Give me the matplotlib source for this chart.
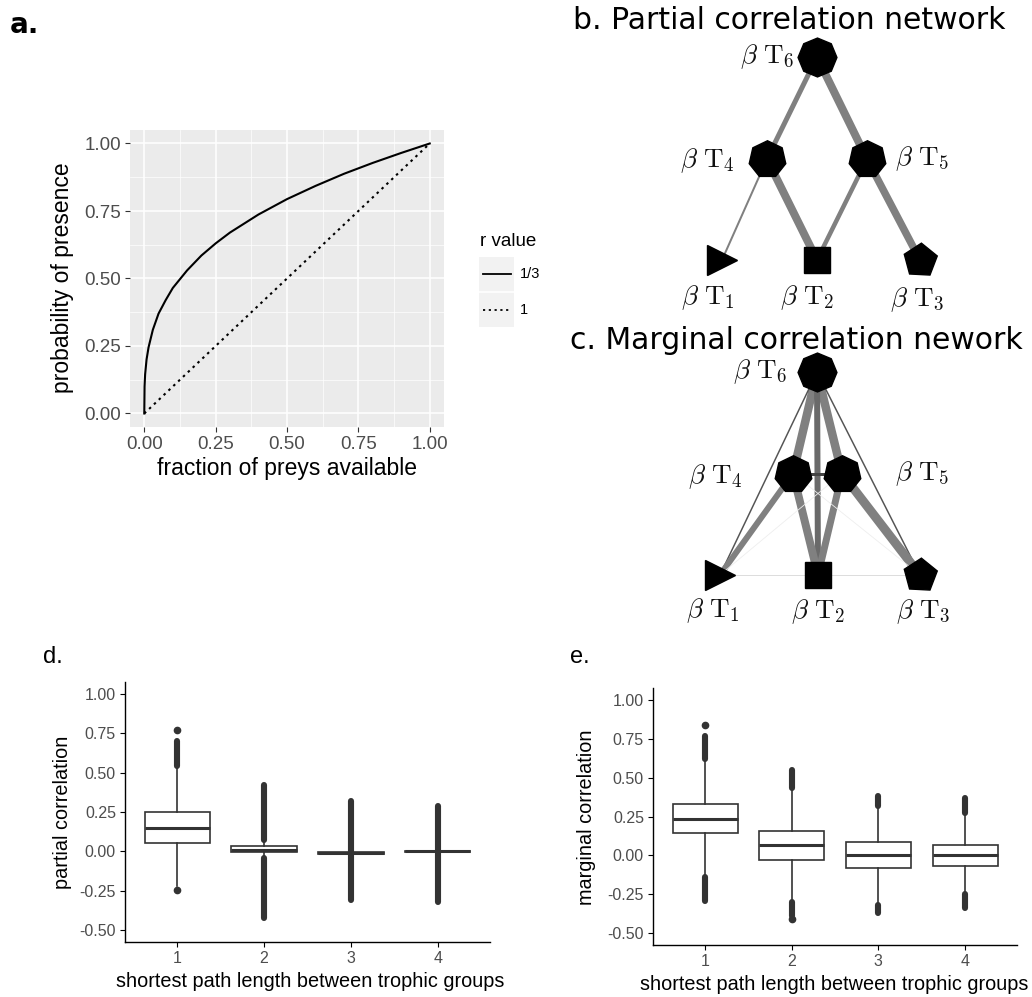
import matplotlib
matplotlib.use('Agg')
import matplotlib.pyplot as plt

W, H = 1032, 997
GG = 'Liberation Sans'
plt.rcParams['mathtext.fontset'] = 'cm'

# panel a: probability of presence against fraction of preys available
frac_preys = [0, 0.001, 0.003, 0.008, 0.015, 0.03, 0.05, 0.075, 0.1, 0.15, 0.2,
              0.25, 0.3, 0.4, 0.5, 0.6, 0.7, 0.8, 0.9, 1.0]
presence_r13 = [0, 0.10, 0.145, 0.20, 0.245, 0.31, 0.37, 0.42, 0.465, 0.53, 0.585,
                0.63, 0.67, 0.737, 0.794, 0.843, 0.888, 0.928, 0.965, 1.0]
frac_r1 = [0, 1.0]
presence_r1 = [0, 1.0]
r_labels = ['1/3', '1']
unit_ticks = [0, 0.25, 0.5, 0.75, 1.0]
unit_ticklabels = ['0.00', '0.25', '0.50', '0.75', '1.00']

# panels b, c: trophic group networks (edge strength ~ width)
partial_edges = [('T6', 'T4'), ('T6', 'T5'), ('T4', 'T1'), ('T4', 'T2'), ('T5', 'T2'), ('T5', 'T3')]
partial_strength = [0.5, 0.8, 0.2, 0.8, 0.45, 0.75]
marginal_edges = [('T6', 'T4'), ('T6', 'T5'), ('T6', 'T2'), ('T6', 'T1'), ('T6', 'T3'),
                  ('T4', 'T1'), ('T4', 'T2'), ('T5', 'T2'), ('T5', 'T3'), ('T4', 'T5'),
                  ('T1', 'T2'), ('T2', 'T3'), ('T4', 'T3'), ('T5', 'T1')]
marginal_strength = [0.85, 0.85, 0.6, 0.15, 0.15, 0.6, 0.8, 0.7, 0.9, 0.3, 0.1, 0.1, 0.08, 0.08]

# panels d, e: correlation by shortest path length
path_len = [1, 2, 3, 4]
path_ticks = [-0.5, -0.25, 0, 0.25, 0.5, 0.75, 1.0]
path_ticklabels = ['-0.50', '-0.25', '0.00', '0.25', '0.50', '0.75', '1.00']

pc_q1 = [0.055, -0.005, -0.018, -0.003]
pc_med = [0.15, 0.01, -0.011, 0.0]
pc_q3 = [0.25, 0.035, -0.004, 0.003]
pc_lo = [-0.22, -0.03, -0.02, -0.005]
pc_hi = [0.53, 0.06, 0.0, 0.005]
pc_points = [[0.77, -0.245], [], [], []]
pc_span_lo = [[0.545], [0.07, -0.42], [-0.31], [-0.32]]
pc_span_hi = [[0.70], [0.42, -0.04], [0.32], [0.29]]

mc_q1 = [0.143, -0.028, -0.081, -0.066]
mc_med = [0.235, 0.064, 0.0, 0.0]
mc_q3 = [0.33, 0.158, 0.086, 0.066]
mc_lo = [-0.13, -0.28, -0.30, -0.24]
mc_hi = [0.61, 0.42, 0.31, 0.26]
mc_points = [[0.84], [-0.41], [], []]
mc_span_lo = [[0.62, -0.29], [0.43, -0.39], [0.32, -0.37], [0.27, -0.34]]
mc_span_hi = [[0.77, -0.14], [0.55, -0.30], [0.38, -0.32], [0.37, -0.25]]

fig = plt.figure(figsize=(W / 100, H / 100), dpi=100)


def px_axes(l, t, r, b):
    return fig.add_axes([l / W, 1 - b / H, (r - l) / W, (b - t) / H])


def px_text(x, y, s, **kw):
    return fig.text(x / W, 1 - y / H, s, **kw)


# ---------------- a ----------------
ax = px_axes(130, 130, 444, 427)
ax.set_facecolor('#EBEBEB')
ax.set_xlim(-0.05, 1.05)
ax.set_ylim(-0.05, 1.05)
ax.set_xticks(unit_ticks, unit_ticklabels)
ax.set_yticks(unit_ticks, unit_ticklabels)
ax.set_xticks([0.125, 0.375, 0.625, 0.875], minor=True)
ax.set_yticks([0.125, 0.375, 0.625, 0.875], minor=True)
ax.grid(which='major', color='white', lw=1.1)
ax.grid(which='minor', color='white', lw=0.5)
ax.set_axisbelow(True)
ax.tick_params(which='minor', length=0)
ax.tick_params(which='major', length=3.5, width=0.8, color='#333333',
               labelcolor='#4D4D4D', labelsize=13.5, pad=3)
for lab in ax.get_xticklabels() + ax.get_yticklabels():
    lab.set_fontfamily(GG)
for sp in ax.spines.values():
    sp.set_visible(False)
ax.plot(frac_preys, presence_r13, color='black', lw=1.5)
ax.plot(frac_r1, presence_r1, color='black', lw=1.5, ls=(0, (1.2, 2)))
px_text(62, 278, 'probability of presence', rotation=90, ha='center', va='center',
        fontsize=16.5, family=GG)
px_text(287, 468, 'fraction of preys available', ha='center', va='center',
        fontsize=16.5, family=GG)

# legend
lax = px_axes(479, 257, 514, 327)
lax.set_xlim(0, 1)
lax.set_ylim(0, 2)
lax.set_facecolor('#F2F2F2')
lax.axhline(1, color='white', lw=1.2)
lax.plot([0.1, 0.9], [1.5, 1.5], color='black', lw=1.3)
lax.plot([0.1, 0.9], [0.5, 0.5], color='black', lw=1.3, ls=(0, (1.2, 2)))
lax.set_xticks([])
lax.set_yticks([])
for sp in lax.spines.values():
    sp.set_visible(False)
px_text(480, 241, 'r value', ha='left', va='center', fontsize=13.5, family=GG)
px_text(520, 274, r_labels[0], ha='left', va='center', fontsize=10.5, family=GG)
px_text(520, 310, r_labels[1], ha='left', va='center', fontsize=10.5, family=GG)

px_text(10, 33, 'a.', fontsize=20, fontweight='bold', family='DejaVu Sans', va='baseline')

# ---------------- b, c networks ----------------
shapes = {'T1': ('>', 22), 'T2': ('s', 19), 'T3': ((5, 0, -75), 25),
          'T4': ((7, 0, 0), 27), 'T5': ((7, 0, 0), 27), 'T6': ((8, 0, 0), 28)}


def draw_net(ax, pos, edges, strength, colors, offsets):
    for (a, b), s, c in zip(edges, strength, colors):
        ax.plot([pos[a][0], pos[b][0]], [pos[a][1], pos[b][1]], color=c,
                lw=max(s * 10 * 0.72, 0.6), solid_capstyle='butt', zorder=1)
    for n, (x, y) in pos.items():
        m, ms = shapes[n]
        ax.plot([x], [y], marker=m, ms=ms, color='black', mec='black', ls='none', zorder=3)
        dx, dy, ha = offsets[n]
        ax.annotate(r'$\beta\ \mathrm{T}_{%s}$' % n[1], (x, y), xytext=(dx, dy),
                    textcoords='offset pixels', ha=ha, va='center', fontsize=19.5,
                    color='#111111')
    ax.set_xlim(-4, 4)
    ax.axis('off')


bax = px_axes(617, 36, 1017, 316)
bax.set_ylim((260 - 316) / 101, (260 - 36) / 101)
pos_b = {'T1': (-1.9, 0), 'T2': (0, 0), 'T3': (2.06, 0),
         'T4': (-1.0, 1.0), 'T5': (1.0, 1.0), 'T6': (0, 2.01)}
off_b = {'T1': (-14, -38, 'center'), 'T2': (-10, -38, 'center'), 'T3': (-3, -40, 'center'),
         'T4': (-32, -2, 'right'), 'T5': (28, 0, 'left'), 'T6': (-22, 0, 'right')}
draw_net(bax, pos_b, partial_edges, partial_strength, ['#808080'] * len(partial_edges), off_b)

cax = px_axes(617, 330, 1017, 630)
cax.set_ylim((575 - 630) / 101.5, (575 - 330) / 101.5)
pos_c = {'T1': (-1.94, 0), 'T2': (0.02, 0), 'T3': (2.06, 0),
         'T4': (-0.48, 1.0), 'T5': (0.5, 1.0), 'T6': (0, 2.0)}
off_c = {'T1': (-7, -36, 'center'), 'T2': (0, -37, 'center'), 'T3': (3, -37, 'center'),
         'T4': (-50, -3, 'right'), 'T5': (53, 0, 'left'), 'T6': (-29, 0, 'right')}
marginal_colors = ['#808080', '#808080', '#6a6a6a', '#555555', '#555555',
                   '#808080', '#808080', '#808080', '#808080', '#444444',
                   '#dddddd', '#dddddd', '#eeeeee', '#eeeeee']
draw_net(cax, pos_c, marginal_edges, marginal_strength, marginal_colors, off_c)

px_text(573, 29, 'b. Partial correlation network', fontsize=21.5,
        family='DejaVu Sans', va='baseline')
px_text(570, 349, 'c. Marginal correlation nework', fontsize=21.5,
        family='DejaVu Sans', va='baseline')


# ---------------- d, e boxplots ----------------
def draw_box(ax, q1, med, q3, lo, hi, pts, slo, shi):
    stats = []
    for i in range(len(path_len)):
        stats.append(dict(med=med[i], q1=q1[i], q3=q3[i], whislo=lo[i], whishi=hi[i],
                          fliers=pts[i]))
    ax.bxp(stats, positions=path_len, widths=0.75, patch_artist=True, showcaps=False,
           boxprops=dict(facecolor='white', edgecolor='#333333', lw=1.2),
           medianprops=dict(color='#333333', lw=2.2),
           whiskerprops=dict(color='#333333', lw=1.2),
           flierprops=dict(marker='o', mfc='#333333', mec='#333333', ms=4.5))
    for i, x in enumerate(path_len):
        ax.vlines([x] * len(slo[i]), slo[i], shi[i], colors='#333333', lw=4.4,
                  capstyle='round', zorder=3)
    ax.set_xlim(0.4, 4.6)
    ax.set_ylim(-0.575, 1.075)
    ax.set_xticks(path_len, [str(p) for p in path_len])
    ax.set_yticks(path_ticks, path_ticklabels)
    ax.spines[['top', 'right']].set_visible(False)
    for s in ['left', 'bottom']:
        ax.spines[s].set_linewidth(1.0)
        ax.spines[s].set_color('black')
    ax.tick_params(length=3.5, width=0.8, color='black', labelcolor='#4D4D4D',
                   labelsize=11.5, pad=3)
    for lab in ax.get_xticklabels() + ax.get_yticklabels():
        lab.set_fontfamily(GG)


dax = px_axes(125, 682, 490, 942)
draw_box(dax, pc_q1, pc_med, pc_q3, pc_lo, pc_hi, pc_points, pc_span_lo, pc_span_hi)
px_text(62, 812, 'partial correlation', rotation=90, ha='center', va='center',
        fontsize=14.3, family=GG)
px_text(310, 981, 'shortest path length between trophic groups', ha='center', va='center',
        fontsize=14.3, family=GG)
px_text(43, 663, 'd.', fontsize=17, family=GG, va='baseline')

eax = px_axes(653, 688, 1017, 945)
draw_box(eax, mc_q1, mc_med, mc_q3, mc_lo, mc_hi, mc_points, mc_span_lo, mc_span_hi)
px_text(587, 817, 'marginal correlation', rotation=90, ha='center', va='center',
        fontsize=14.3, family=GG)
px_text(834, 984, 'shortest path length between trophic groups', ha='center', va='center',
        fontsize=14.3, family=GG)
px_text(570, 663, 'e.', fontsize=17, family=GG, va='baseline')

fig.savefig('out.png', dpi=100)
